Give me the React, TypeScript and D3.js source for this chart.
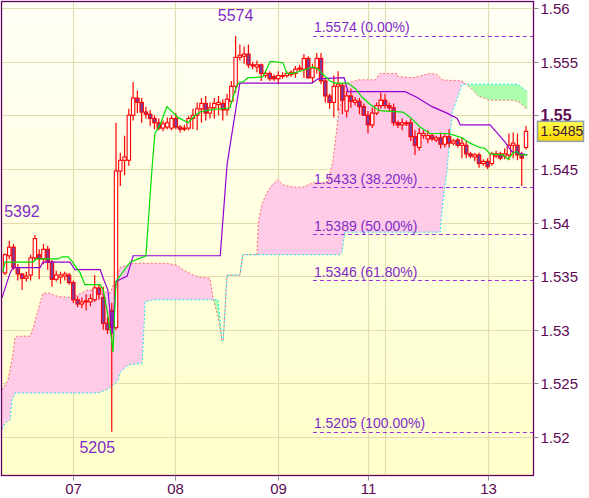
import React from "react";
import * as d3 from "d3";

// ---------- DATA ----------
// hourly candles: [open, high, low, close]
const candles: [number, number, number, number][] = [
  [1.5353,1.5371,1.5351,1.5370],[1.5369,1.5383,1.5366,1.5377],[1.5377,1.5380,1.5356,1.5358],[1.5358,1.5361,1.5346,1.5352],
  [1.5352,1.5353,1.5337,1.5348],[1.5348,1.5354,1.5345,1.5350],[1.5351,1.5370,1.5346,1.5367],[1.5367,1.5388,1.5364,1.5385],
  [1.5370,1.5375,1.5347,1.5366],[1.5366,1.5380,1.5361,1.5375],[1.5375,1.5378,1.5356,1.5363],[1.5363,1.5365,1.5340,1.5347],
  [1.5347,1.5355,1.5345,1.5351],[1.5349,1.5354,1.5343,1.5351],[1.5350,1.5354,1.5346,1.5352],[1.5351,1.5353,1.5342,1.5344],
  [1.5344,1.5346,1.5325,1.5328],[1.5328,1.5331,1.5321,1.5324],[1.5324,1.5330,1.5320,1.5326],[1.5326,1.5333,1.5318,1.5327],
  [1.5326,1.5333,1.5322,1.5329],[1.5328,1.5351,1.5326,1.5339],[1.5339,1.5342,1.5328,1.5333],[1.5330,1.5340,1.5300,1.5306],
  [1.5306,1.5312,1.5296,1.5300],[1.5318,1.5325,1.5205,1.5302],[1.5302,1.5493,1.5300,1.5448],[1.5448,1.5465,1.5434,1.5458],
  [1.5458,1.5481,1.5444,1.5461],[1.5458,1.5506,1.5453,1.5500],[1.5500,1.5531,1.5495,1.5516],[1.5516,1.5523,1.5502,1.5512],
  [1.5512,1.5516,1.5493,1.5503],[1.5503,1.5508,1.5497,1.5501],[1.5501,1.5505,1.5490,1.5497],[1.5497,1.5500,1.5487,1.5493],
  [1.5493,1.5497,1.5486,1.5488],[1.5488,1.5495,1.5485,1.5492],[1.5489,1.5498,1.5487,1.5493],[1.5488,1.5500,1.5486,1.5497],
  [1.5497,1.5502,1.5487,1.5489],[1.5489,1.5491,1.5484,1.5487],[1.5488,1.5491,1.5485,1.5487],[1.5488,1.5499,1.5486,1.5497],
  [1.5497,1.5506,1.5487,1.5500],[1.5500,1.5512,1.5486,1.5506],[1.5506,1.5516,1.5493,1.5511],[1.5511,1.5518,1.5495,1.5502],
  [1.5502,1.5512,1.5497,1.5507],[1.5507,1.5516,1.5497,1.5511],[1.5510,1.5518,1.5500,1.5512],[1.5511,1.5515,1.5495,1.5505],
  [1.5505,1.5520,1.5500,1.5515],[1.5513,1.5532,1.5511,1.5527],[1.5527,1.5574,1.5521,1.5554],[1.5554,1.5566,1.5551,1.5556],
  [1.5555,1.5564,1.5548,1.5557],[1.5557,1.5566,1.5544,1.5547],[1.5547,1.5550,1.5543,1.5546],[1.5545,1.5551,1.5540,1.5547],
  [1.5547,1.5548,1.5532,1.5539],[1.5537,1.5542,1.5535,1.5539],[1.5539,1.5541,1.5532,1.5534],[1.5536,1.5538,1.5532,1.5534],
  [1.5534,1.5541,1.5529,1.5537],[1.5537,1.5540,1.5534,1.5537],[1.5537,1.5541,1.5535,1.5539],[1.5538,1.5542,1.5536,1.5540],
  [1.5539,1.5546,1.5535,1.5543],[1.5543,1.5547,1.5541,1.5544],[1.5543,1.5557,1.5535,1.5553],[1.5553,1.5555,1.5534,1.5535],
  [1.5535,1.5548,1.5530,1.5544],[1.5544,1.5558,1.5539,1.5553],[1.5553,1.5558,1.5529,1.5532],[1.5532,1.5535,1.5512,1.5518],
  [1.5518,1.5520,1.5506,1.5512],[1.5512,1.5537,1.5498,1.5527],[1.5527,1.5541,1.5504,1.5529],[1.5528,1.5530,1.5501,1.5514],
  [1.5504,1.5523,1.5498,1.5518],[1.5518,1.5525,1.5507,1.5513],[1.5512,1.5517,1.5509,1.5514],[1.5513,1.5516,1.5501,1.5508],
  [1.5508,1.5511,1.5500,1.5500],[1.5500,1.5504,1.5483,1.5491],[1.5491,1.5507,1.5488,1.5502],[1.5502,1.5512,1.5500,1.5509],
  [1.5509,1.5521,1.5506,1.5514],[1.5514,1.5520,1.5506,1.5509],[1.5509,1.5512,1.5504,1.5507],[1.5507,1.5511,1.5490,1.5493],
  [1.5493,1.5495,1.5488,1.5491],[1.5491,1.5497,1.5486,1.5493],[1.5492,1.5495,1.5490,1.5493],[1.5493,1.5497,1.5476,1.5480],
  [1.5480,1.5486,1.5463,1.5472],[1.5470,1.5488,1.5467,1.5483],[1.5481,1.5486,1.5478,1.5483],[1.5478,1.5486,1.5474,1.5481],
  [1.5481,1.5483,1.5476,1.5478],[1.5477,1.5481,1.5475,1.5479],[1.5479,1.5484,1.5469,1.5473],[1.5473,1.5483,1.5470,1.5480],
  [1.5480,1.5487,1.5470,1.5474],[1.5474,1.5478,1.5472,1.5476],[1.5477,1.5479,1.5470,1.5472],[1.5472,1.5479,1.5460,1.5474],
  [1.5472,1.5476,1.5460,1.5464],[1.5464,1.5466,1.5460,1.5462],[1.5461,1.5465,1.5457,1.5463],[1.5463,1.5465,1.5451,1.5455],
  [1.5455,1.5459,1.5453,1.5457],[1.5457,1.5460,1.5450,1.5452],[1.5455,1.5466,1.5453,1.5464],[1.5462,1.5467,1.5460,1.5464],
  [1.5464,1.5466,1.5458,1.5460],[1.5462,1.5469,1.5459,1.5464],[1.5463,1.5483,1.5458,1.5472],[1.5472,1.5484,1.5460,1.5474],
  [1.5472,1.5483,1.5458,1.5463],[1.5463,1.5466,1.5434,1.5460],[1.5470,1.5490,1.5468,1.5485],
];

// Ichimoku lines: [bar index, price]
const tenkan: [number, number][] = [
  [-0.5,1.5354],[0,1.5363],[6.6,1.5363],[7.3,1.5366],[12.4,1.5366],[13.4,1.5368],[14.8,1.5368],[15.5,1.5365],
  [17.6,1.5353],[18.7,1.5342],[22.3,1.5342],[23.0,1.5337],[23.9,1.5318],[25.0,1.5290],[25.3,1.5279],[26.0,1.5345],
  [29.3,1.5363],[33.0,1.5369],[34.4,1.5449],[35.1,1.5483],[36.3,1.5491],[37.9,1.5508],[40.5,1.5498],[42.9,1.5493],
  [44.5,1.5500],[45.7,1.5503],[48.0,1.5505],[52.7,1.5507],[53.4,1.5517],[54.3,1.5528],[55.0,1.5531],[55.7,1.5531],
  [56.9,1.5535],[58.1,1.5535],[60.4,1.5536],[62.1,1.5550],[62.8,1.5550],[65.1,1.5549],[66.0,1.5539],[67.5,1.5539],
  [69.8,1.5542],[72.1,1.5545],[73.3,1.5543],[74.5,1.5538],[76.1,1.5532],[77.3,1.5530],[80.3,1.5530],[82.0,1.5525],
  [83.6,1.5517],[85.5,1.5510],[87.4,1.5505],[88.3,1.5504],[93.2,1.5503],[94.9,1.5498],[97.2,1.5489],[99.5,1.5483],
  [103.5,1.5483],[104.7,1.5482],[107.0,1.5479],[108.9,1.5474],[111.2,1.5470],[112.4,1.5469],[113.6,1.5464],
  [116.6,1.5463],[117.8,1.5459],[119.0,1.5465],[119.9,1.5466],[120.6,1.5463],[122.3,1.5463],
];
const kijun: [number, number][] = [
  [-0.7,1.5330],[1.2,1.5353],[1.9,1.5358],[8.2,1.5358],[8.9,1.5363],[15.2,1.5363],[16.4,1.5356],[22.3,1.5356],
  [23.2,1.5346],[24.1,1.5337],[25.1,1.5296],[26.0,1.5345],[28.6,1.5350],[30.0,1.5369],[50.4,1.5369],[52.0,1.5454],
  [55.0,1.5530],[71.9,1.5530],[73.3,1.5534],[79.4,1.5535],[80.3,1.5522],[93.7,1.5522],[96.3,1.5517],[100.0,1.5508],
  [103.5,1.5502],[105.9,1.5497],[106.6,1.5491],[113.6,1.5491],[117.1,1.5475],[118.7,1.5466],[122.3,1.5463],
];
const senkouA: [number, number][] = [
  [-0.7,1.5244],[0.7,1.5253],[1.9,1.5278],[2.3,1.5292],[2.8,1.5294],[5.9,1.5294],[6.6,1.5302],[8.2,1.5325],
  [8.9,1.5334],[10.5,1.5334],[12.4,1.5331],[15.9,1.5330],[19.2,1.5337],[22.3,1.5337],[24.6,1.5334],[26.9,1.5358],
  [28.6,1.5360],[30.0,1.5362],[37.9,1.5362],[40.3,1.5360],[41.7,1.5356],[44.0,1.5351],[45.7,1.5349],[48.0,1.5348],
  [48.7,1.5330],[49.9,1.5312],[50.8,1.5290],[51.1,1.5290],[52.0,1.5351],[55.0,1.5351],[55.7,1.5370],[59.0,1.5370],
  [59.3,1.5400],[60.2,1.5418],[61.4,1.5428],[62.5,1.5435],[63.9,1.5440],[65.1,1.5435],[67.5,1.5433],[69.8,1.5433],
  [72.1,1.5437],[75.6,1.5437],[76.8,1.5458],[78.0,1.5498],[79.2,1.5524],[80.3,1.5530],[82.7,1.5533],[86.7,1.5533],
  [87.8,1.5539],[91.8,1.5539],[92.0,1.5536],[95.6,1.5535],[99.5,1.5539],[101.2,1.5538],[102.3,1.5533],[107.0,1.5532],
  [107.7,1.5530],[108.9,1.5526],[110.8,1.5518],[113.6,1.5514],[119.0,1.5514],[120.6,1.5512],[122.3,1.5505],
];
const senkouB: [number, number][] = [
  [-0.7,1.5207],[0,1.5213],[1.2,1.5216],[1.6,1.5234],[2.3,1.5241],[21.6,1.5241],[23.9,1.5244],[24.6,1.5246],
  [26.5,1.5253],[26.9,1.5260],[28.8,1.5267],[32.1,1.5269],[32.3,1.5281],[32.8,1.5326],[34.7,1.5328],[49.9,1.5328],
  [50.8,1.5290],[51.1,1.5290],[52.0,1.5351],[55.0,1.5351],[55.7,1.5370],[78.5,1.5370],[78.9,1.5372],[79.6,1.5391],
  [101.9,1.5391],[102.6,1.5421],[103.5,1.5449],[104.7,1.5502],[107.0,1.5529],[120.1,1.5529],[122.3,1.5522],
];

const fibPrices = [1.5574, 1.5433, 1.5389, 1.5346, 1.5205];
const fibPercents = ["0.00%", "38.20%", "50.00%", "61.80%", "100.00%"];
const fibStartIndex = 72.1;

const yTicks = [1.52, 1.525, 1.53, 1.535, 1.54, 1.545, 1.55, 1.555, 1.56];
const yTickLabels = ["1.52", "1.525", "1.53", "1.535", "1.54", "1.545", "1.55", "1.555", "1.56"];
const dayTickIndex = [15.9, 39.8, 63.9, 85.0, 113.1];
const dayTickLabels = ["07", "08", "09", "11", "13"];
const extraGridIndex = [89.0];

const highLabels: { idx: number; price: number; text: string; dy: number; anchor: string }[] = [
  { idx: 54, price: 1.5574, text: "5574", dy: -15, anchor: "middle" },
  { idx: -0.2, price: 1.5392, text: "5392", dy: -14, anchor: "start" },
  { idx: 21.6, price: 1.5205, text: "5205", dy: 21, anchor: "middle" },
];
const lastPrice = 1.5485;

// ---------- LAYOUT ----------
const W = 589, H = 498;
const PL = 1.5, PT = 1.5, PR = 533.5, PB = 475.5;

export default function App() {
  const x = d3.scaleLinear().domain([0, 122]).range([5, 526]);
  const y = d3.scaleLinear().domain([1.52, 1.56]).range([437, 8]);

  const line = d3.line<[number, number]>().x(d => x(d[0])).y(d => y(d[1]));

  const interp = (pts: [number, number][]) =>
    d3.scaleLinear().domain(pts.map(d => d[0])).range(pts.map(d => d[1])).clamp(true);
  const sA = interp(senkouA);
  const sB = interp(senkouB);
  const ts = Array.from(new Set([
    ...d3.range(-1, 122.31, 0.05),
    ...senkouA.map(d => d[0]),
    ...senkouB.map(d => d[0]),
  ])).sort((a, b) => a - b);

  const pinkArea = d3.area<number>()
    .x(t => x(t))
    .y0(t => y(sB(t)))
    .y1(t => y(Math.max(sA(t), sB(t))));
  const greenArea = d3.area<number>()
    .x(t => x(t))
    .y0(t => y(sA(t)))
    .y1(t => y(Math.max(sA(t), sB(t))));

  const font = "'Liberation Sans', Arial, sans-serif";
  const bw = 3.4;

  return (
    <svg width={W} height={H} style={{ position: "absolute", left: 0, top: 0, background: "#fff" }} fontFamily={font}>
      <defs>
        <linearGradient id="bg" x1="0" y1="0" x2="0" y2="1">
          <stop offset="0" stopColor="#fffff6" />
          <stop offset="1" stopColor="#ffffc9" />
        </linearGradient>
        <linearGradient id="pbox" x1="0" y1="0" x2="0" y2="1">
          <stop offset="0" stopColor="#ffff50" />
          <stop offset="1" stopColor="#ffd400" />
        </linearGradient>
        <clipPath id="plot">
          <rect x={PL} y={PT} width={PR - PL} height={PB - PT} />
        </clipPath>
      </defs>

      <rect x={PL} y={PT} width={PR - PL} height={PB - PT} fill="url(#bg)" />

      <g clipPath="url(#plot)">
        {/* grid */}
        {yTicks.map((v, i) => (
          <line key={"gy" + i} x1={PL} x2={PR} y1={Math.round(y(v)) + 0.5} y2={Math.round(y(v)) + 0.5} stroke="#e2ddb0" strokeWidth={1.2} />
        ))}
        {[...dayTickIndex, ...extraGridIndex].map((v, i) => (
          <line key={"gx" + i} x1={Math.round(x(v)) + 0.5} x2={Math.round(x(v)) + 0.5} y1={PT} y2={PB} stroke="#e2ddb0" strokeWidth={1.2} />
        ))}

        {/* cloud */}
        <path d={pinkArea(ts) || ""} fill="#ffcbe6" />
        <path d={greenArea(ts) || ""} fill="#adffad" />
        <path d={line(senkouA) || ""} fill="none" stroke="#ff6a6a" strokeWidth={1} strokeDasharray="2,2" />
        <path d={line(senkouB) || ""} fill="none" stroke="#19e6f5" strokeWidth={1} strokeDasharray="2,2" />

        {/* fibonacci levels */}
        {fibPrices.map((p, i) => (
          <g key={"fib" + i}>
            <line x1={x(fibStartIndex)} x2={PR} y1={Math.round(y(p)) + 0.5} y2={Math.round(y(p)) + 0.5}
              stroke="#9a2fe6" strokeWidth={1} strokeDasharray="4,3" />
            <text x={x(fibStartIndex) + 1} y={y(p) - 3.5} fontSize={14} fill="#7f2bc8">
              {`${p.toFixed(4)} (${fibPercents[i]})`}
            </text>
          </g>
        ))}

        {/* candles */}
        {candles.map((c, i) => {
          const [o, h, l, cl] = c;
          const cx = x(i);
          const up = cl >= o;
          const top = y(Math.max(o, cl));
          const bot = y(Math.min(o, cl));
          return (
            <g key={"c" + i}>
              <line x1={cx} x2={cx} y1={y(h)} y2={y(l)} stroke="#ff0000" strokeWidth={1.2} />
              <rect x={cx - bw / 2} y={top} width={bw} height={Math.max(bot - top, 0.8)}
                fill={up ? "#ffffff" : "#7d3c9e"} stroke="#ff0000" strokeWidth={1.1} />
            </g>
          );
        })}

        {/* tenkan / kijun */}
        <path d={line(kijun) || ""} fill="none" stroke="#9400d3" strokeWidth={1.2} />
        <path d={line(tenkan) || ""} fill="none" stroke="#00e000" strokeWidth={1.2} />
      </g>

      {/* high / low labels */}
      {highLabels.map((d, i) => (
        <text key={"hl" + i} x={x(d.idx)} y={y(d.price) + d.dy} fontSize={16} fill="#7f2bc8" textAnchor={d.anchor as any}>
          {d.text}
        </text>
      ))}

      {/* frame */}
      <rect x={PL} y={PT} width={PR - PL} height={PB - PT} fill="none" stroke="#660066" strokeWidth={1.3} />

      {/* y axis */}
      {yTicks.map((v, i) => {
        const yy = Math.round(y(v)) + 0.5;
        const bold = v === 1.55;
        return (
          <g key={"yt" + i}>
            <line x1={PR} x2={PR + 5} y1={yy} y2={yy} stroke="#8a8a8a" strokeWidth={1} />
            <text x={PR + 7} y={yy} dy="0.36em" fontSize={bold ? 16 : 15} fontWeight={bold ? "bold" : "normal"} fill="#5c0a55">
              {yTickLabels[i]}
            </text>
          </g>
        );
      })}
      <rect x={PR + 4} y={y(lastPrice) - 10} width={46} height={20} fill="url(#pbox)" stroke="#8d9eae" strokeWidth={1.5} />
      <text x={PR + 7} y={y(lastPrice)} dy="0.36em" fontSize={14} fill="#3a1533">{lastPrice.toFixed(4)}</text>

      {/* x axis */}
      {dayTickIndex.map((v, i) => {
        const xx = Math.round(x(v)) + 0.5;
        return (
          <g key={"xt" + i}>
            <line x1={xx} x2={xx} y1={PB} y2={PB + 5} stroke="#8a8a8a" strokeWidth={1} />
            <text x={xx} y={PB + 18} textAnchor="middle" fontSize={15} fill="#5c0a55">{dayTickLabels[i]}</text>
          </g>
        );
      })}
    </svg>
  );
}
